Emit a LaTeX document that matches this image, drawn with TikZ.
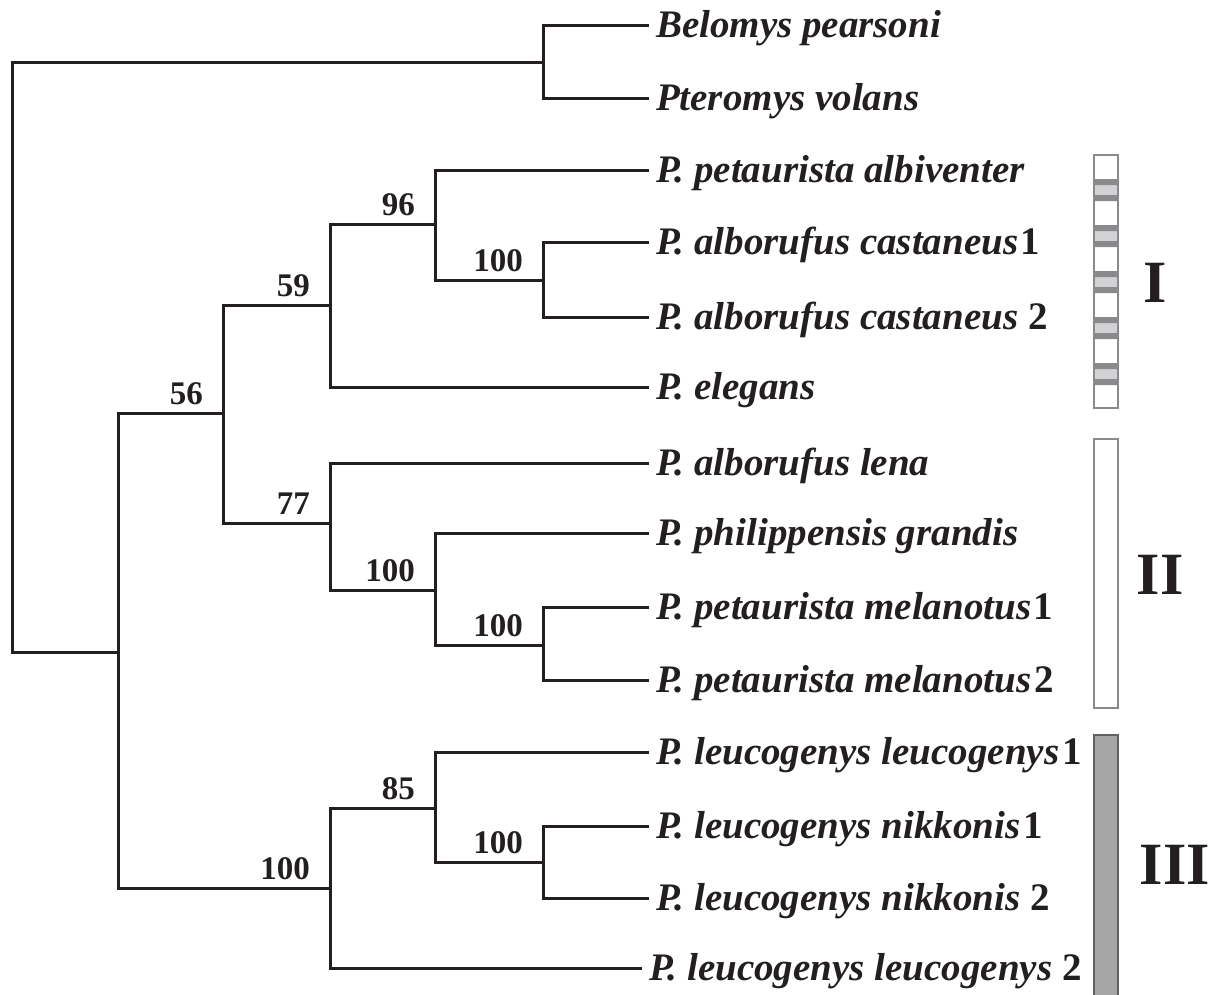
\documentclass[tikz,border=0pt]{standalone}
\usepackage{fontspec}
\setmainfont{Liberation Serif}
\usetikzlibrary{positioning}
\definecolor{branch}{HTML}{231F20}
\definecolor{barline}{HTML}{8A8A8C}
\definecolor{bandlight}{HTML}{D2D2D4}
\definecolor{bandfill}{HTML}{A6A6A9}
\tikzset{
	taxon/.style={anchor=west,inner ysep=4pt,inner xsep=9pt,outer sep=0pt,text height=35pt,text depth=9.5pt,
		font=\fontsize{39}{41}\selectfont\bfseries\itshape,text=branch},
	boot/.style={inner sep=0pt,text depth=0pt,font=\fontsize{33}{35}\selectfont\bfseries,text=branch},
	clade/.style={inner sep=0pt,font=\fontsize{60}{62}\selectfont\bfseries,text=branch},
	branchline/.style={line width=3pt,draw=branch,line join=miter,line cap=rect}
}
\begin{document}
\begin{tikzpicture}[x=1pt,y=-1pt]
		\useasboundingbox (0,0) rectangle (1215,994);
		%taxa
		\node[taxon] (belomys) at (647,25) {Belomys pearsoni};
		\node[taxon] (pteromys) at (647,98) {Pteromys volans};
		\node[taxon] (albiventer) at (647,170) {P. petaurista albiventer};
		\node[taxon] (castaneusA) at (647,242) {P. alborufus castaneus\kern2pt\upshape 1};
		\node[taxon] (castaneusB) at (647,317) {P. alborufus castaneus \upshape 2};
		\node[taxon] (elegans) at (647,387) {P. elegans};
		\node[taxon] (lena) at (647,463) {P. alborufus lena};
		\node[taxon] (grandis) at (647,533) {P. philippensis grandis};
		\node[taxon] (melanotusA) at (647,607) {P. petaurista melanotus\kern2pt\upshape 1};
		\node[taxon] (melanotusB) at (647,680) {P. petaurista melanotus\kern3pt\upshape 2};
		\node[taxon] (leucoA) at (647,752) {P. leucogenys leucogenys\kern3pt\upshape 1};
		\node[taxon] (nikkonisA) at (647,826) {P. leucogenys nikkonis\kern3pt\upshape 1};
		\node[taxon] (nikkonisB) at (647,898) {P. leucogenys nikkonis \upshape 2};
		\node[taxon] (leucoB) at (640,968) {P. leucogenys leucogenys \upshape 2};
		%internal nodes
		\coordinate (root) at (12,357);
		\coordinate (outgroup) at (543,62);
		\coordinate (ingroup) at (118,652);
		\coordinate (cladeIandII) at (223,413);
		\coordinate (cladeI) at (330,305);
		\coordinate (albiCast) at (435,224);
		\coordinate (castaneus) at (543,280);
		\coordinate (cladeII) at (330,523);
		\coordinate (grandisMel) at (435,590);
		\coordinate (melanotus) at (543,645);
		\coordinate (cladeIII) at (330,888);
		\coordinate (leucoNik) at (435,808);
		\coordinate (nikkonis) at (543,862);
		%branches
		\draw[branchline] (outgroup) -| (root) |- (ingroup);
		\draw[branchline] (outgroup) |- (belomys.west);
		\draw[branchline] (outgroup) |- (pteromys.west);
		\draw[branchline] (ingroup) |- (cladeIandII);
		\draw[branchline] (ingroup) |- (cladeIII);
		\draw[branchline] (cladeIandII) |- (cladeI);
		\draw[branchline] (cladeIandII) |- (cladeII);
		\draw[branchline] (cladeI) |- (albiCast);
		\draw[branchline] (cladeI) |- (elegans.west);
		\draw[branchline] (albiCast) |- (albiventer.west);
		\draw[branchline] (albiCast) |- (castaneus);
		\draw[branchline] (castaneus) |- (castaneusA.west);
		\draw[branchline] (castaneus) |- (castaneusB.west);
		\draw[branchline] (cladeII) |- (lena.west);
		\draw[branchline] (cladeII) |- (grandisMel);
		\draw[branchline] (grandisMel) |- (grandis.west);
		\draw[branchline] (grandisMel) |- (melanotus);
		\draw[branchline] (melanotus) |- (melanotusA.west);
		\draw[branchline] (melanotus) |- (melanotusB.west);
		\draw[branchline] (cladeIII) |- (leucoNik);
		\draw[branchline] (cladeIII) |- (leucoB.west);
		\draw[branchline] (leucoNik) |- (leucoA.west);
		\draw[branchline] (leucoNik) |- (nikkonis);
		\draw[branchline] (nikkonis) |- (nikkonisA.west);
		\draw[branchline] (nikkonis) |- (nikkonisB.west);
		%bootstrap
		\node[boot,above left=8pt and 20pt of cladeIandII] (bsIandII) {56};
		\node[boot,above left=8pt and 20pt of cladeI] (bsI) {59};
		\node[boot,above left=8pt and 20pt of albiCast] (bsAlbiCast) {96};
		\node[boot,above left=8pt and 20pt of castaneus] (bsCastaneus) {100};
		\node[boot,above left=8pt and 20pt of cladeII] (bsII) {77};
		\node[boot,above left=8pt and 20pt of grandisMel] (bsGrandisMel) {100};
		\node[boot,above left=8pt and 20pt of melanotus] (bsMelanotus) {100};
		\node[boot,above left=8pt and 20pt of cladeIII] (bsIII) {100};
		\node[boot,above left=8pt and 20pt of leucoNik] (bsLeucoNik) {85};
		\node[boot,above left=8pt and 20pt of nikkonis] (bsNikkonis) {100};
		%clade bars
		\draw[barline,line width=1.5pt,fill=white] (1094,155) rectangle (1118,408);
		\fill[bandlight] (1094.75,179) rectangle (1117.25,201);
		\fill[bandlight] (1094.75,225) rectangle (1117.25,247);
		\fill[bandlight] (1094.75,271) rectangle (1117.25,293);
		\fill[bandlight] (1094.75,317) rectangle (1117.25,339);
		\fill[bandlight] (1094.75,363) rectangle (1117.25,385);
		\fill[barline] (1094.75,179) rectangle (1117.25,185) (1094.75,195) rectangle (1117.25,201);
		\fill[barline] (1094.75,225) rectangle (1117.25,231) (1094.75,241) rectangle (1117.25,247);
		\fill[barline] (1094.75,271) rectangle (1117.25,277) (1094.75,287) rectangle (1117.25,293);
		\fill[barline] (1094.75,317) rectangle (1117.25,323) (1094.75,333) rectangle (1117.25,339);
		\fill[barline] (1094.75,363) rectangle (1117.25,369) (1094.75,379) rectangle (1117.25,385);
		\draw[barline,line width=1.5pt,fill=white] (1094,439) rectangle (1118,708);
		\draw[draw=barline!70!black,line width=1.5pt,fill=bandfill] (1094,735) rectangle (1118,1000);
		%clade names
		\node[clade] (nameI) at (1155,283) {I};
		\node[clade] (nameII) at (1160,575) {II};
		\node[clade] (nameIII) at (1175,865) {III};
\end{tikzpicture}
\end{document}
